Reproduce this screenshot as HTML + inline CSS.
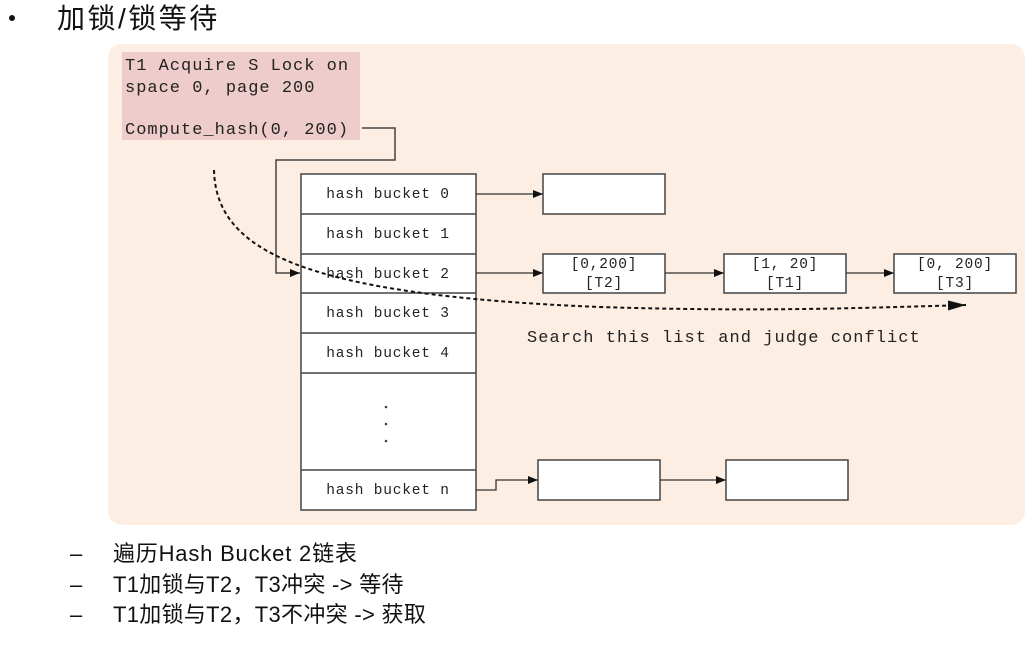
<!DOCTYPE html>
<html><head><meta charset="utf-8"><style>
html,body{margin:0;padding:0;background:#fff;width:1034px;height:650px;overflow:hidden}
svg{display:block}
.m{font-family:"Liberation Mono","Noto Serif CJK SC",monospace;fill:#222}
.c{font-family:"Liberation Sans","Noto Sans CJK SC",sans-serif;fill:#111}
</style></head><body>
<svg width="1034" height="650" viewBox="0 0 1034 650">
<defs><marker id="a" markerWidth="10" markerHeight="8" refX="10" refY="4" orient="auto" markerUnits="userSpaceOnUse"><path d="M0,0 L10,4 L0,8 z" fill="#111"/></marker>
<marker id="b" markerWidth="18" markerHeight="10" refX="18" refY="5" orient="auto" markerUnits="userSpaceOnUse"><path d="M0,0 L18,5 L0,10 z" fill="#111"/></marker></defs>
<circle cx="12" cy="18" r="3" fill="#111"/>
<text x="57" y="28" class="c" font-size="28" letter-spacing="2.5">加锁/锁等待</text>
<rect x="108" y="44" width="917" height="481" rx="14" fill="#fdeee3"/>
<rect x="122" y="52" width="238" height="88" fill="#eecccb"/>
<g class="m" font-size="17" letter-spacing="1">
<text x="125" y="70">T1 Acquire S Lock on</text>
<text x="125" y="92">space 0, page 200</text>
<text x="125" y="134">Compute_hash(0, 200)</text>
</g>
<g fill="none" stroke="#444" stroke-width="1.5">
<path d="M362,128 H395 V160 H276 V273 H300" marker-end="url(#a)"/>
</g>
<g fill="#fff" stroke="#444" stroke-width="1.5">
<rect x="301" y="174" width="175" height="336"/>
<path d="M301,214H476M301,254H476M301,293H476M301,333H476M301,373H476M301,470H476"/>
<rect x="543" y="174" width="122" height="40"/>
<rect x="543" y="254" width="122" height="39"/>
<rect x="724" y="254" width="122" height="39"/>
<rect x="894" y="254" width="122" height="39"/>
<rect x="538" y="460" width="122" height="40"/>
<rect x="726" y="460" width="122" height="40"/>
</g>
<g fill="none" stroke="#333" stroke-width="1.3">
<path d="M476,194H543" marker-end="url(#a)"/>
<path d="M476,273H543" marker-end="url(#a)"/>
<path d="M665,273H724" marker-end="url(#a)"/>
<path d="M846,273H894" marker-end="url(#a)"/>
<path d="M476,490H496V480H538" marker-end="url(#a)"/>
<path d="M660,480H726" marker-end="url(#a)"/>
</g>
<g class="m" font-size="14.5" letter-spacing="0.8" text-anchor="middle">
<text x="388" y="198">hash bucket 0</text>
<text x="388" y="238">hash bucket 1</text>
<text x="388" y="278">hash bucket 2</text>
<text x="388" y="317">hash bucket 3</text>
<text x="388" y="357">hash bucket 4</text>
<text x="388" y="494">hash bucket n</text>
<text x="604" y="268">[0,200]</text><text x="604" y="287">[T2]</text>
<text x="785" y="268">[1, 20]</text><text x="785" y="287">[T1]</text>
<text x="955" y="268">[0, 200]</text><text x="955" y="287">[T3]</text>
</g>
<circle cx="386" cy="407" r="1.3" fill="#444"/><circle cx="386" cy="424" r="1.3" fill="#444"/><circle cx="386" cy="441" r="1.3" fill="#444"/>
<path d="M214,170 C216,250 300,295 600,307 C760,312 860,308 966,305" fill="none" stroke="#111" stroke-width="2" stroke-dasharray="4,3" marker-end="url(#b)"/>
<text x="527" y="342" class="m" font-size="17" letter-spacing="1.05">Search this list and judge conflict</text>
<g class="c" font-size="22">
<text x="70" y="561">–</text><text x="113" y="561" letter-spacing="0.8">遍历Hash Bucket 2链表</text>
<text x="70" y="592">–</text><text x="113" y="592" letter-spacing="0.3">T1加锁与T2，T3冲突 -&gt; 等待</text>
<text x="70" y="622">–</text><text x="113" y="622" letter-spacing="0.3">T1加锁与T2，T3不冲突 -&gt; 获取</text>
</g>
</svg>
</body></html>
